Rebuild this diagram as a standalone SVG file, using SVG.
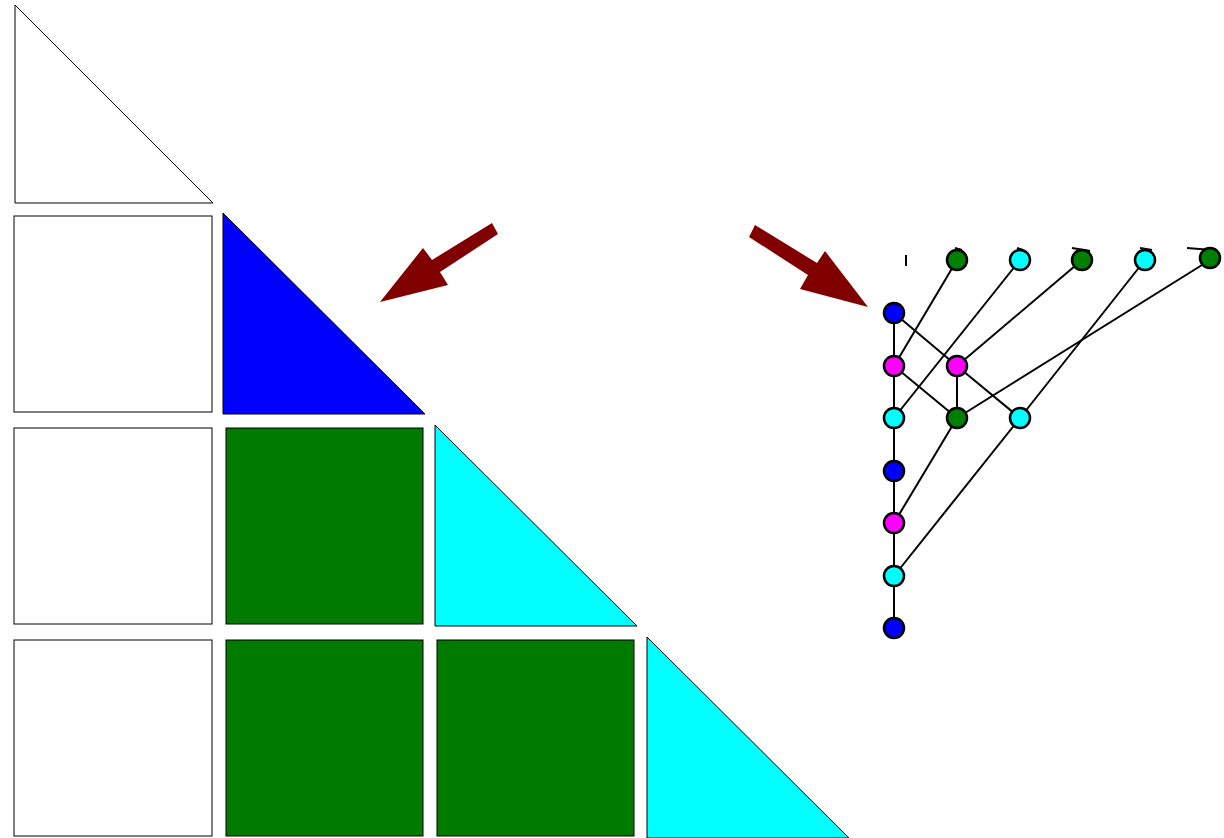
<svg xmlns="http://www.w3.org/2000/svg" width="1224" height="838" viewBox="0 0 1224 838">
<style>
.sh{stroke:#000;stroke-width:1}
.w{fill:#fff}
.g{fill:#007b00}
.c{fill:#00ffff}
.b{fill:#0000ff}
.arr{fill:#800000;stroke:none}
.e{stroke:#000;stroke-width:2;fill:none}
.n{stroke:#000;stroke-width:2.5}
.nb{fill:#0000ff}.nm{fill:#ff00ff}.nc{fill:#00ffff}.ng{fill:#008000}
</style>
<rect width="1224" height="838" fill="#fff"/>
<g id="grid">
<polygon class="sh w" points="15,5 15,203 213,203"/>
<rect class="sh w" x="14" y="216" width="198" height="196"/>
<polygon class="sh b" points="223,213 223,414 425,414"/>
<rect class="sh w" x="14" y="428" width="198" height="196"/>
<rect class="sh g" x="226" y="428" width="197" height="196"/>
<polygon class="sh c" points="435,425 435,626 637,626"/>
<rect class="sh w" x="14" y="640" width="198" height="196"/>
<rect class="sh g" x="226" y="640" width="197" height="196"/>
<rect class="sh g" x="437" y="640" width="197" height="196"/>
<polygon class="sh c" points="647,637 647,838 849,838"/>
</g>
<g id="arrows">
<polygon class="arr" points="492,223 498,234 440,272 448,285 380,302 423,248 432,260"/>
<polygon class="arr" points="755,225 749,237 808,275 800,289 868,307 825,251 817,263"/>
</g>
<g id="connectors">
<line class="e" x1="894" y1="313" x2="894" y2="628"/>
<line class="e" x1="894" y1="313" x2="957" y2="366"/>
<line class="e" x1="957" y1="366" x2="1020" y2="418"/>
<line class="e" x1="894" y1="366" x2="957" y2="418"/>
<line class="e" x1="957" y1="366" x2="957" y2="418"/>
<line class="e" x1="957" y1="260" x2="894" y2="366"/>
<line class="e" x1="1020" y1="260" x2="894" y2="418"/>
<line class="e" x1="1082" y1="260" x2="957" y2="366"/>
<line class="e" x1="1145" y1="260" x2="1020" y2="418"/>
<line class="e" x1="1210" y1="260" x2="957" y2="418"/>
<line class="e" x1="957" y1="418" x2="894" y2="523"/>
<line class="e" x1="1020" y1="418" x2="894" y2="576"/>
<line class="e" x1="906" y1="255" x2="906" y2="266" stroke-width="1" stroke="#888"/>
<line class="e" x1="955" y1="248" x2="962" y2="250"/>
<line class="e" x1="1017" y1="248" x2="1023" y2="250"/>
<line class="e" x1="1072" y1="248" x2="1090" y2="251"/>
<line class="e" x1="1140" y1="248" x2="1152" y2="250"/>
<line class="e" x1="1187" y1="248" x2="1212" y2="250"/>
</g>
<g id="n1"><circle class="n ng" cx="957" cy="260" r="10"/></g>
<g id="n2"><circle class="n nc" cx="1020" cy="260" r="10"/></g>
<g id="n3"><circle class="n ng" cx="1082" cy="260" r="10"/></g>
<g id="n4"><circle class="n nc" cx="1145" cy="260" r="10"/></g>
<g id="n5"><circle class="n ng" cx="1210" cy="258" r="10"/></g>
<g id="n6"><circle class="n nb" cx="894" cy="313" r="10"/></g>
<g id="n7"><circle class="n nm" cx="894" cy="366" r="10"/></g>
<g id="n8"><circle class="n nm" cx="957" cy="366" r="10"/></g>
<g id="n9"><circle class="n nc" cx="894" cy="418" r="10"/></g>
<g id="n10"><circle class="n ng" cx="957" cy="418" r="10"/></g>
<g id="n11"><circle class="n nc" cx="1020" cy="418" r="10"/></g>
<g id="n12"><circle class="n nb" cx="894" cy="471" r="10"/></g>
<g id="n13"><circle class="n nm" cx="894" cy="523" r="10"/></g>
<g id="n14"><circle class="n nc" cx="894" cy="576" r="10"/></g>
<g id="n15"><circle class="n nb" cx="894" cy="628" r="10"/></g>
</svg>
